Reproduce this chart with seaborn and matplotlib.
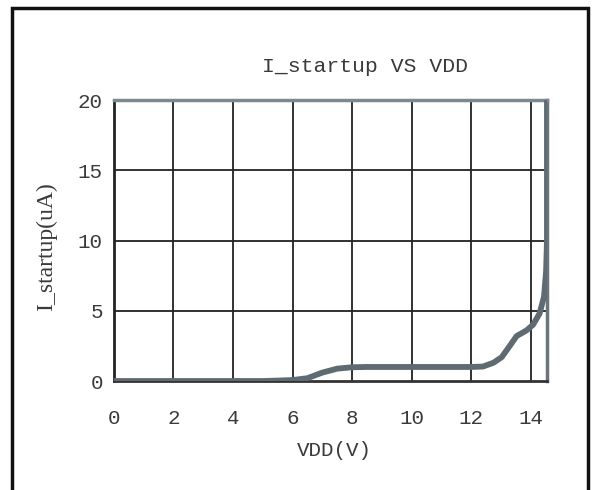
import numpy as np
import pandas as pd
import seaborn as sns
import matplotlib.pyplot as plt
from matplotlib.patches import Rectangle

#### data ####
vdd = [0, 1, 2, 3, 4, 5, 5.5, 6.0, 6.5, 7.0, 7.5, 8.0, 8.5, 9, 10, 11, 12.0,
       12.4, 12.75, 13.03, 13.3, 13.53, 13.86, 14.08, 14.3, 14.45, 14.52, 14.55, 14.55]
i_startup = [0, 0, 0, 0, 0, 0, 0.03, 0.07, 0.2, 0.6, 0.88, 0.98, 1.0, 1.0, 1.0, 1.0, 1.0,
             1.03, 1.3, 1.7, 2.5, 3.2, 3.6, 4.0, 4.8, 6.0, 7.8, 10, 20]
xticks = [0, 2, 4, 6, 8, 10, 12, 14]
yticks = [0, 5, 10, 15, 20]

data = pd.DataFrame({"VDD": vdd, "I": i_startup})

sns.set_style("white")
mono = ["Liberation Mono", "DejaVu Sans Mono"]
plt.rcParams["font.family"] = mono

fig = plt.figure(figsize=(5.93, 4.90), dpi=100)
ax = fig.add_axes([0.1922, 0.2224, 0.7302, 0.5735])

# grid
for x in xticks[1:]:
    ax.axvline(x, color="#222222", lw=1.3, zorder=1)
for y in yticks[1:-1]:
    ax.axhline(y, color="#222222", lw=1.3, zorder=1)

sns.lineplot(data=data, x="VDD", y="I", sort=False, estimator=None,
             color="#5f6b72", lw=4.2, ax=ax, zorder=3)

ax.set_xlim(0, 14.55)
ax.set_ylim(0, 20)
ax.set_xticks(xticks)
ax.set_yticks(yticks)
ax.tick_params(axis="x", length=0, pad=20, labelsize=15, labelcolor="#3a3a3a")
ax.tick_params(axis="y", length=0, pad=8, labelsize=15, labelcolor="#3a3a3a")

ax.spines["left"].set_color("#222222")
ax.spines["left"].set_linewidth(2)
ax.spines["bottom"].set_color("#333333")
ax.spines["bottom"].set_linewidth(2)
ax.spines["top"].set_color("#7d8890")
ax.spines["top"].set_linewidth(2.5)
ax.spines["right"].set_color("#6a767c")
ax.spines["right"].set_linewidth(2.5)

ax.set_xlabel("VDD(V)", fontsize=15, color="#3a3a3a")
ax.xaxis.set_label_coords(0.508, -0.212)
ax.set_ylabel("I_startup(uA)", fontsize=17, color="#3a3a3a",
              family=["Liberation Serif", "DejaVu Serif"])
ax.yaxis.set_label_coords(-0.132, 0.477)

fig.text(365 / 593, 1 - 67 / 490, "I_startup VS VDD", ha="center", va="center",
         fontsize=15.4, color="#3a3a3a")

# outer frame
fig.patches.append(Rectangle((12 / 593, -0.05), 576 / 593, 1.05 - 8 / 490,
                             transform=fig.transFigure, fill=False,
                             edgecolor="#111111", lw=2.5))

fig.savefig("out.png", dpi=100)
